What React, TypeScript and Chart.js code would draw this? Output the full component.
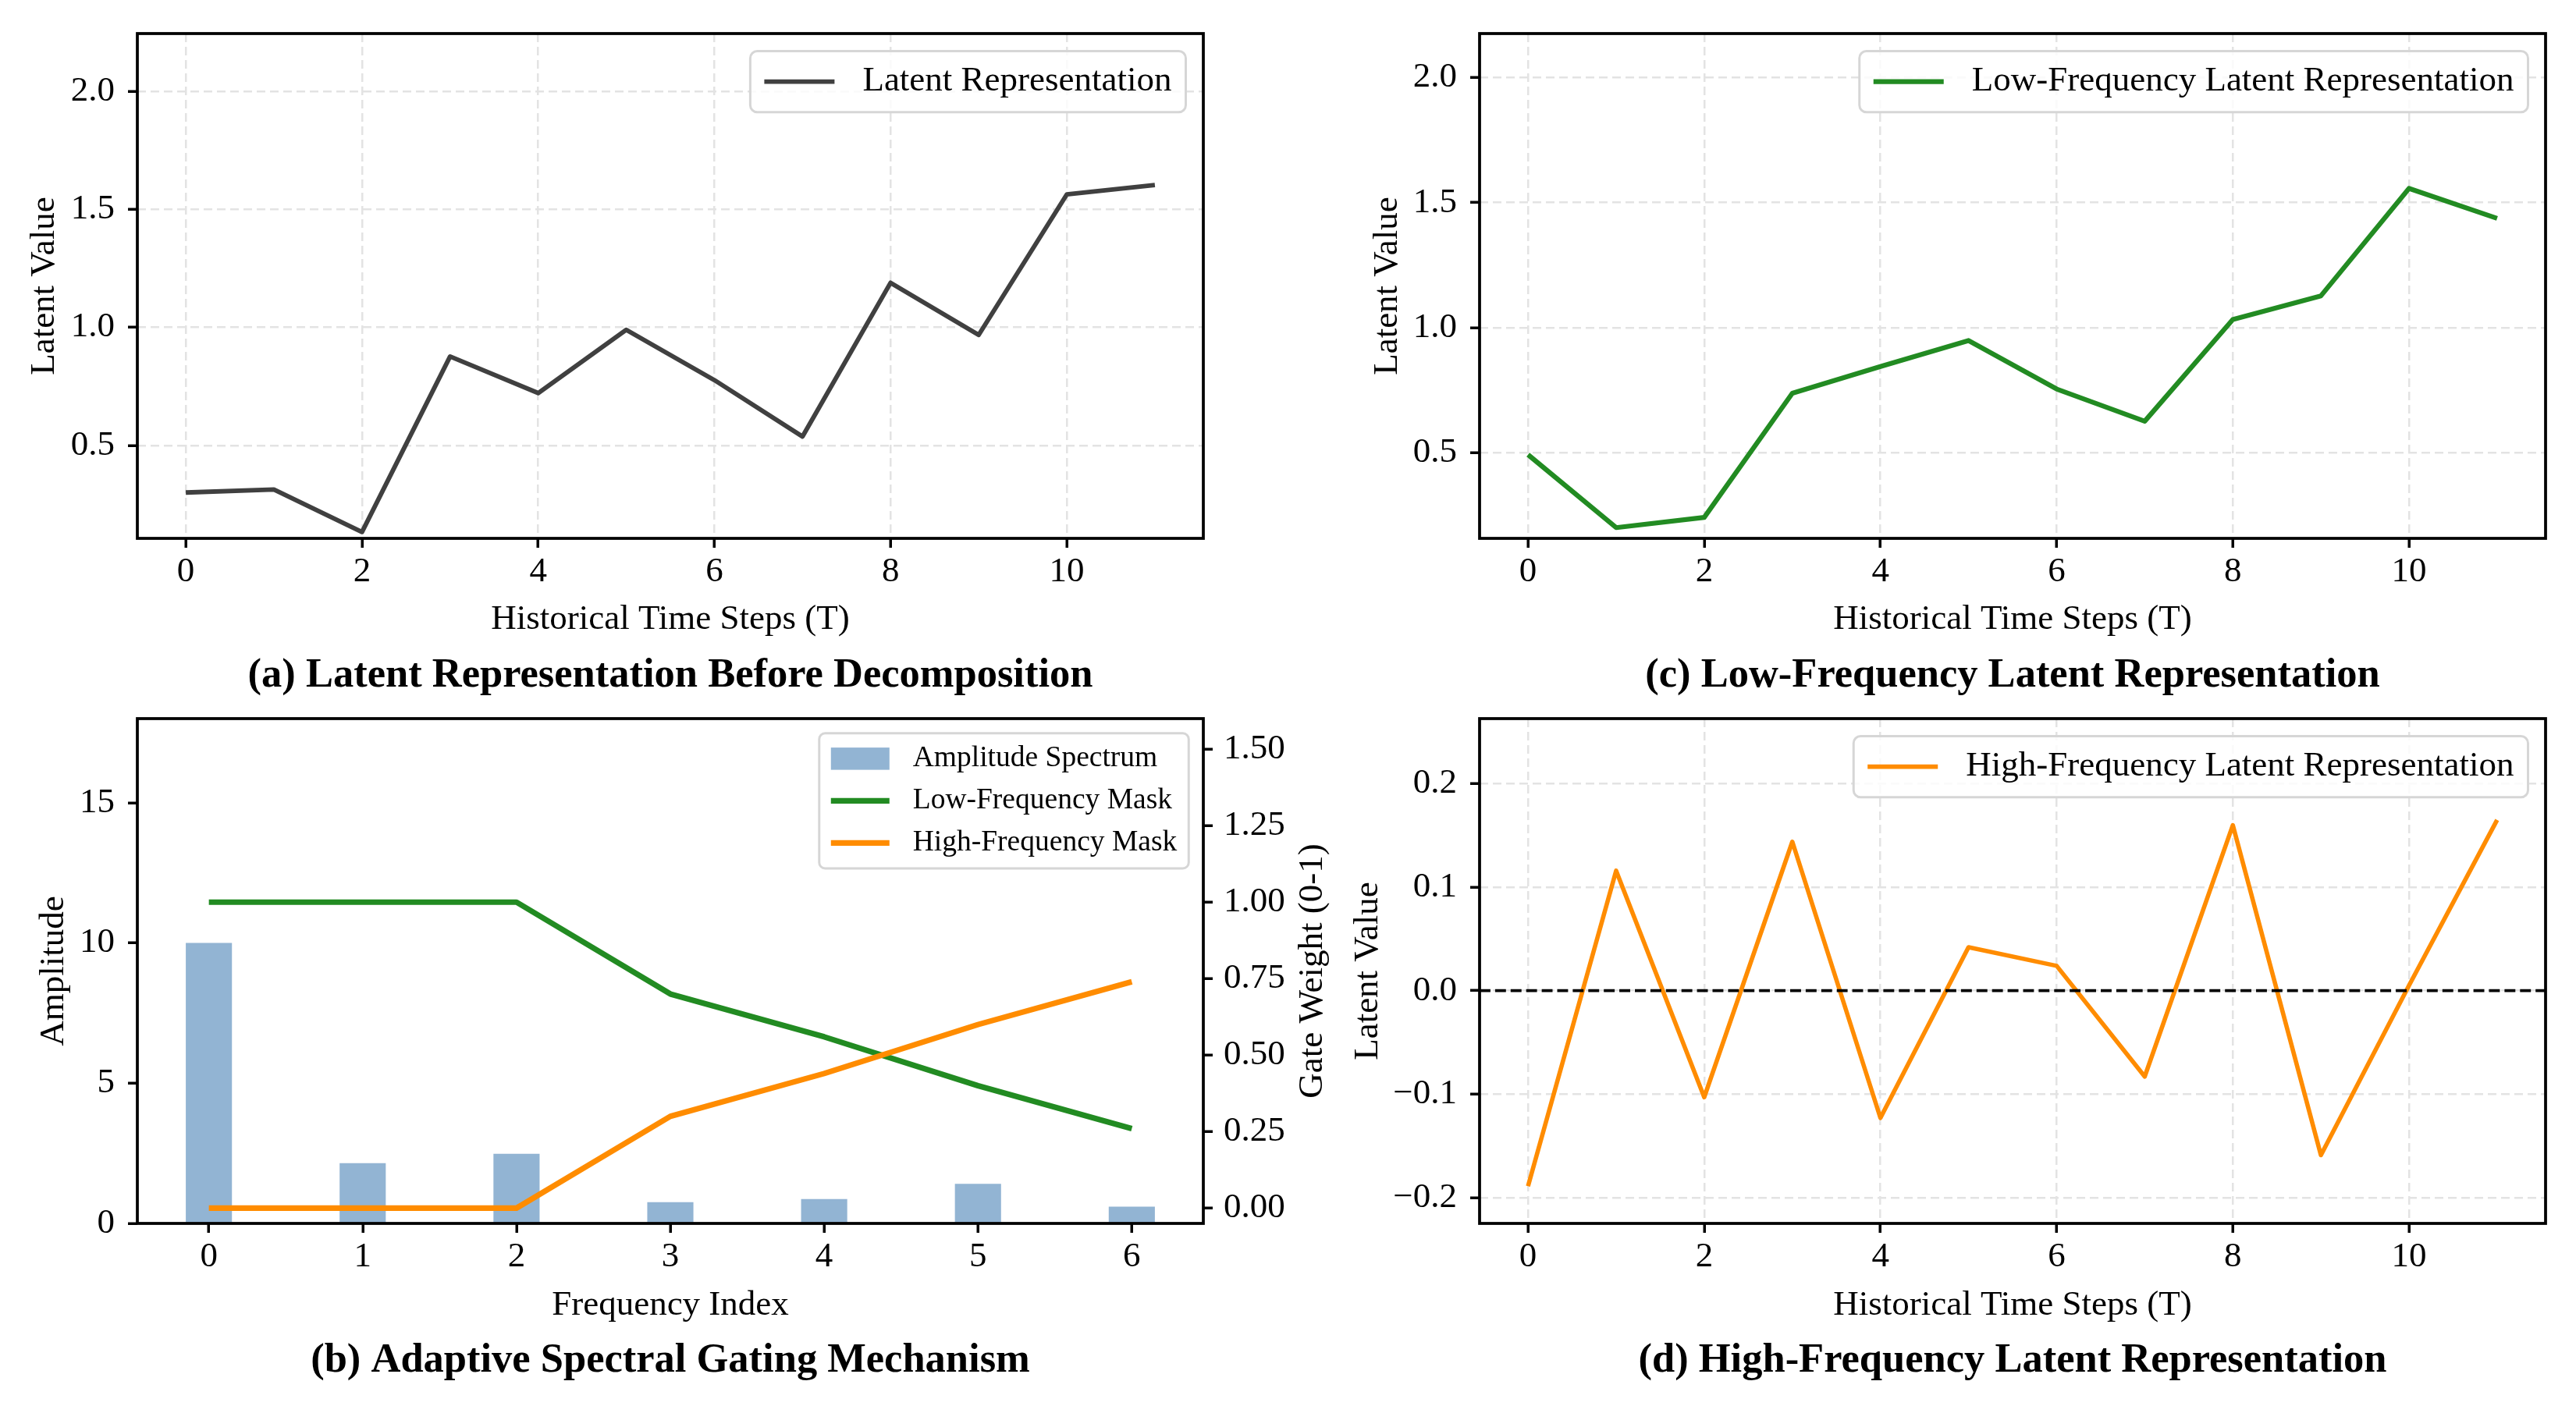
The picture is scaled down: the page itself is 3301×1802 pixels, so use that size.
import React, { useEffect, useRef } from 'react';
import { Chart, registerables } from 'chart.js';

Chart.register(...registerables);

// ---------------- data ----------------
const TIME_STEPS = [0, 1, 2, 3, 4, 5, 6, 7, 8, 9, 10, 11];
const LATENT = [0.301, 0.314, 0.134, 0.877, 0.722, 0.99, 0.777, 0.538, 1.189, 0.968, 1.563, 1.603];
const LOW_FREQ = [0.491, 0.199, 0.24, 0.737, 0.844, 0.948, 0.754, 0.625, 1.032, 1.127, 1.557, 1.437];
const HIGH_FREQ = [-0.189, 0.116, -0.103, 0.144, -0.123, 0.042, 0.024, -0.083, 0.16, -0.159, 0.005, 0.165];

const FREQ_INDEX = [0, 1, 2, 3, 4, 5, 6];
const AMPLITUDE = [10.0, 2.15, 2.48, 0.76, 0.87, 1.41, 0.6];
const LOW_MASK = [1, 1, 1, 0.7, 0.56, 0.4, 0.26];
const HIGH_MASK = [0, 0, 0, 0.3, 0.44, 0.6, 0.74];

const TIME_TICKS = [0, 2, 4, 6, 8, 10];
const FREQ_TICKS = [0, 1, 2, 3, 4, 5, 6];
const LATENT_TICKS = [0.5, 1.0, 1.5, 2.0];
const HIGH_TICKS = [-0.2, -0.1, 0, 0.1, 0.2];
const AMP_TICKS = [0, 5, 10, 15];
const GATE_TICKS = [0, 0.25, 0.5, 0.75, 1.0, 1.25, 1.5];

const TIME_RANGE = [-0.55, 11.55];
const FREQ_RANGE = [-0.465, 6.465];
const LATENT_RANGE_A = [0.107, 2.244];
const LATENT_RANGE_C = [0.156, 2.177];
const HIGH_RANGE = [-0.225, 0.263];
const AMP_RANGE = [0, 18];
const GATE_RANGE = [-0.05, 1.6];

const TITLE_A = '(a) Latent Representation Before Decomposition';
const TITLE_B = '(b) Adaptive Spectral Gating Mechanism';
const TITLE_C = '(c) Low-Frequency Latent Representation';
const TITLE_D = '(d) High-Frequency Latent Representation';
const X_TIME_LABEL = 'Historical Time Steps (T)';
const X_FREQ_LABEL = 'Frequency Index';
const Y_LATENT_LABEL = 'Latent Value';
const Y_AMP_LABEL = 'Amplitude';
const Y_GATE_LABEL = 'Gate Weight (0-1)';
const LEG_LATENT = 'Latent Representation';
const LEG_LOW = 'Low-Frequency Latent Representation';
const LEG_HIGH = 'High-Frequency Latent Representation';
const LEG_AMP = 'Amplitude Spectrum';
const LEG_LOW_MASK = 'Low-Frequency Mask';
const LEG_HIGH_MASK = 'High-Frequency Mask';

// ---------------- style ----------------
const FONT = '"Liberation Serif", "Times New Roman", Times, serif';
const TICK_FS = 45;
const LABEL_FS = 45;
const TITLE_FS = 52.5;
const LEGEND_FS = 45;
const LEGEND_FS_B = 37.5;
const TITLE_LH = TITLE_FS * 1.2;
const LABEL_LH = LABEL_FS * 1.2;
const GRID_COLOR = '#e3e3e3';
const TICK_LEN = 12;
const TICK_W = 3.5;
const SPINE_W = 3.75;
const GRAY = '#404040';
const GREEN = '#228B22';
const ORANGE = '#FF8C00';
const BAR_COLOR = '#92B4D3';

const PANEL_A = { left: 0, top: 0, width: 1700, height: 900, area: [176, 43, 1542, 690], yTitleX: 57, xTitleY: 794, titleY: 866 };
const PANEL_C = { left: 1700, top: 0, width: 1601, height: 900, area: [196, 43, 1562, 690], yTitleX: 78, xTitleY: 794, titleY: 866 };
const PANEL_B = { left: 0, top: 880, width: 1760, height: 922, area: [176, 41, 1542, 688], yTitleX: 69, y2TitleX: 1682, xTitleY: 793, titleY: 864 };
const PANEL_D = { left: 1700, top: 880, width: 1601, height: 922, area: [196, 41, 1562, 688], yTitleX: 53, xTitleY: 793, titleY: 864 };

const pts = (xs: number[], ys: number[]) => xs.map((x, i) => ({ x, y: ys[i] }));
const fmt0 = (v: number) => String(Math.round(v));
const fmt1 = (v: number) => (v < -1e-9 ? '\u2212' : '') + Math.abs(v).toFixed(1);
const fmt2 = (v: number) => (v < -1e-9 ? '\u2212' : '') + Math.abs(v).toFixed(2);

function vLayout(p: any) {
  const titlePadBottom = p.height - p.titleY - TITLE_LH / 2;
  const titleTop = p.height - titlePadBottom - TITLE_LH;
  const xHeight = titleTop - p.area[3];
  const xTitlePadBottom = titleTop - p.xTitleY - LABEL_LH / 2;
  return { titlePadBottom, xHeight, xTitlePadBottom };
}

function makeAxis(o: {
  range: number[]; ticks: number[]; fmt: (v: number) => string; grid: boolean; pad: number;
  size: number; isX: boolean; position?: string; title?: string; titlePad?: any;
}) {
  return {
    type: 'linear',
    position: o.position || (o.isX ? 'bottom' : 'left'),
    min: o.range[0],
    max: o.range[1],
    offset: false,
    afterBuildTicks: (s: any) => {
      s.ticks = o.ticks.map((v) => ({ value: v }));
    },
    afterFit: (s: any) => {
      if (o.isX) s.height = o.size;
      else s.width = o.size;
    },
    ticks: {
      autoSkip: false,
      maxRotation: 0,
      minRotation: 0,
      padding: o.pad,
      color: '#000',
      font: { family: FONT, size: TICK_FS, lineHeight: 1 },
      callback: (v: any) => o.fmt(Number(v)),
    },
    grid: {
      display: true,
      drawOnChartArea: o.grid,
      drawTicks: true,
      offset: false,
      tickLength: TICK_LEN,
      tickWidth: TICK_W,
      tickColor: '#000',
      tickBorderDash: [],
      color: GRID_COLOR,
      lineWidth: 2.5,
    },
    border: { display: false, dash: [11, 6] },
    title: o.title
      ? { display: true, text: o.title, color: '#000', font: { family: FONT, size: LABEL_FS, lineHeight: 1.2 }, padding: o.titlePad }
      : { display: false },
  };
}

const framePlugin = {
  id: 'frame',
  afterDatasetsDraw(chart: any) {
    const { ctx, chartArea: a } = chart;
    ctx.save();
    ctx.strokeStyle = '#000';
    ctx.lineWidth = SPINE_W;
    ctx.setLineDash([]);
    ctx.strokeRect(a.left, a.top, a.right - a.left, a.bottom - a.top);
    ctx.restore();
  },
};

const zeroLinePlugin = {
  id: 'zeroLine',
  afterDatasetsDraw(chart: any) {
    const { ctx, chartArea: a, scales } = chart;
    const y = scales.y.getPixelForValue(0);
    ctx.save();
    ctx.strokeStyle = '#000';
    ctx.lineWidth = 3.75;
    ctx.setLineDash([13.9, 6]);
    ctx.beginPath();
    ctx.moveTo(a.left, y);
    ctx.lineTo(a.right, y);
    ctx.stroke();
    ctx.restore();
  },
};

type LegendItem = { label: string; kind: 'line' | 'patch'; color: string; width?: number };

function legendPlugin(items: LegendItem[], fs: number) {
  return {
    id: 'boxLegend',
    afterDraw(chart: any) {
      const { ctx, chartArea: a } = chart;
      ctx.save();
      ctx.font = `${fs}px ${FONT}`;
      const axPad = 0.5 * fs;
      const bp = 0.4 * fs;
      const hl = 2 * fs;
      const htp = 0.8 * fs;
      const ls = 0.5 * fs;
      const rowH = 0.94 * fs;
      const tw = Math.max(...items.map((it) => ctx.measureText(it.label).width));
      const w = 2 * bp + hl + htp + tw;
      const h = 2 * bp + items.length * rowH + (items.length - 1) * ls;
      const x0 = a.right - axPad - w;
      const y0 = a.top + axPad;
      ctx.beginPath();
      (ctx as any).roundRect(x0, y0, w, h, 0.2 * fs);
      ctx.fillStyle = 'rgba(255,255,255,0.8)';
      ctx.fill();
      ctx.lineWidth = 3;
      ctx.strokeStyle = '#d6d6d6';
      ctx.stroke();
      items.forEach((it, i) => {
        const cy = y0 + bp + i * (rowH + ls) + rowH / 2;
        const hx = x0 + bp;
        if (it.kind === 'patch') {
          ctx.fillStyle = it.color;
          ctx.fillRect(hx, cy - 0.38 * fs, hl, 0.76 * fs);
        } else {
          ctx.strokeStyle = it.color;
          ctx.lineWidth = it.width || 5;
          ctx.setLineDash([]);
          ctx.lineCap = 'butt';
          ctx.beginPath();
          ctx.moveTo(hx, cy);
          ctx.lineTo(hx + hl, cy);
          ctx.stroke();
        }
        ctx.fillStyle = '#000';
        ctx.textAlign = 'left';
        ctx.textBaseline = 'middle';
        ctx.fillText(it.label, hx + hl + htp, cy);
      });
      ctx.restore();
    },
  };
}

function sideTitlePlugin(text: string, x: number) {
  return {
    id: 'sideTitle',
    afterDraw(chart: any) {
      const { ctx, chartArea: a } = chart;
      ctx.save();
      ctx.translate(x, (a.top + a.bottom) / 2);
      ctx.rotate(-Math.PI / 2);
      ctx.font = `${LABEL_FS}px ${FONT}`;
      ctx.fillStyle = '#000';
      ctx.textAlign = 'center';
      ctx.textBaseline = 'middle';
      ctx.fillText(text, 0, 0);
      ctx.restore();
    },
  };
}

function baseOptions(p: any, title: string, rightPad: number) {
  const v = vLayout(p);
  return {
    responsive: false,
    maintainAspectRatio: false,
    animation: false,
    events: [],
    layout: { padding: { left: 0, top: p.area[1], right: rightPad, bottom: 0 } },
    plugins: {
      legend: { display: false },
      tooltip: { enabled: false },
      title: {
        display: true,
        text: title,
        position: 'bottom',
        fullSize: false,
        color: '#000',
        font: { family: FONT, size: TITLE_FS, weight: 'bold', lineHeight: 1.2 },
        padding: { top: 0, bottom: v.titlePadBottom },
      },
    },
  };
}

function lineDataset(label: string, ys: number[], color: string, width: number) {
  return {
    type: 'line',
    label,
    data: pts(TIME_STEPS, ys),
    borderColor: color,
    backgroundColor: color,
    borderWidth: width,
    pointRadius: 0,
    tension: 0,
    fill: false,
    borderJoinStyle: 'round',
    borderCapStyle: 'butt',
  };
}

function configA() {
  const p = PANEL_A;
  const v = vLayout(p);
  return {
    type: 'line',
    data: { datasets: [lineDataset(LEG_LATENT, LATENT, GRAY, 5.8)] },
    options: {
      ...baseOptions(p, TITLE_A, p.width - p.area[2]),
      scales: {
        x: makeAxis({ range: TIME_RANGE, ticks: TIME_TICKS, fmt: fmt0, grid: true, pad: 8.5, size: v.xHeight, isX: true, title: X_TIME_LABEL, titlePad: { top: 0, bottom: v.xTitlePadBottom } }),
        y: makeAxis({ range: LATENT_RANGE_A, ticks: LATENT_TICKS, fmt: fmt1, grid: true, pad: 17, size: p.area[0], isX: false, title: Y_LATENT_LABEL, titlePad: { top: p.yTitleX - LABEL_LH / 2, bottom: 0 } }),
      },
    },
    plugins: [framePlugin, legendPlugin([{ label: LEG_LATENT, kind: 'line', color: GRAY, width: 5.8 }], LEGEND_FS)],
  };
}

function configC() {
  const p = PANEL_C;
  const v = vLayout(p);
  return {
    type: 'line',
    data: { datasets: [lineDataset(LEG_LOW, LOW_FREQ, GREEN, 6.2)] },
    options: {
      ...baseOptions(p, TITLE_C, p.width - p.area[2]),
      scales: {
        x: makeAxis({ range: TIME_RANGE, ticks: TIME_TICKS, fmt: fmt0, grid: true, pad: 8.5, size: v.xHeight, isX: true, title: X_TIME_LABEL, titlePad: { top: 0, bottom: v.xTitlePadBottom } }),
        y: makeAxis({ range: LATENT_RANGE_C, ticks: LATENT_TICKS, fmt: fmt1, grid: true, pad: 17, size: p.area[0], isX: false, title: Y_LATENT_LABEL, titlePad: { top: p.yTitleX - LABEL_LH / 2, bottom: 0 } }),
      },
    },
    plugins: [framePlugin, legendPlugin([{ label: LEG_LOW, kind: 'line', color: GREEN, width: 6.2 }], LEGEND_FS)],
  };
}

function configD() {
  const p = PANEL_D;
  const v = vLayout(p);
  return {
    type: 'line',
    data: { datasets: [lineDataset(LEG_HIGH, HIGH_FREQ, ORANGE, 5.6)] },
    options: {
      ...baseOptions(p, TITLE_D, p.width - p.area[2]),
      scales: {
        x: makeAxis({ range: TIME_RANGE, ticks: TIME_TICKS, fmt: fmt0, grid: true, pad: 8.5, size: v.xHeight, isX: true, title: X_TIME_LABEL, titlePad: { top: 0, bottom: v.xTitlePadBottom } }),
        y: makeAxis({ range: HIGH_RANGE, ticks: HIGH_TICKS, fmt: fmt1, grid: true, pad: 17, size: p.area[0], isX: false, title: Y_LATENT_LABEL, titlePad: { top: p.yTitleX - LABEL_LH / 2, bottom: 0 } }),
      },
    },
    plugins: [zeroLinePlugin, framePlugin, legendPlugin([{ label: LEG_HIGH, kind: 'line', color: ORANGE, width: 5.6 }], LEGEND_FS)],
  };
}

function configB() {
  const p = PANEL_B;
  const v = vLayout(p);
  const maskW = 7.2;
  return {
    type: 'line',
    data: {
      datasets: [
        {
          type: 'line', label: LEG_HIGH_MASK, data: pts(FREQ_INDEX, HIGH_MASK), yAxisID: 'y1', order: 1,
          borderColor: ORANGE, backgroundColor: ORANGE, borderWidth: maskW, pointRadius: 0, tension: 0, fill: false,
          borderJoinStyle: 'round', borderCapStyle: 'butt',
        },
        {
          type: 'line', label: LEG_LOW_MASK, data: pts(FREQ_INDEX, LOW_MASK), yAxisID: 'y1', order: 2,
          borderColor: GREEN, backgroundColor: GREEN, borderWidth: maskW, pointRadius: 0, tension: 0, fill: false,
          borderJoinStyle: 'round', borderCapStyle: 'butt',
        },
        {
          type: 'bar', label: LEG_AMP, data: pts(FREQ_INDEX, AMPLITUDE), yAxisID: 'y', order: 3,
          backgroundColor: BAR_COLOR, borderWidth: 0, barPercentage: 0.3, categoryPercentage: 1,
        },
      ],
    },
    options: {
      ...baseOptions(p, TITLE_B, 0),
      scales: {
        x: makeAxis({ range: FREQ_RANGE, ticks: FREQ_TICKS, fmt: fmt0, grid: false, pad: 8.5, size: v.xHeight, isX: true, title: X_FREQ_LABEL, titlePad: { top: 0, bottom: v.xTitlePadBottom } }),
        y: makeAxis({ range: AMP_RANGE, ticks: AMP_TICKS, fmt: fmt0, grid: false, pad: 17, size: p.area[0], isX: false, title: Y_AMP_LABEL, titlePad: { top: p.yTitleX - LABEL_LH / 2, bottom: 0 } }),
        y1: makeAxis({ range: GATE_RANGE, ticks: GATE_TICKS, fmt: fmt2, grid: false, pad: 14, size: p.width - p.area[2], isX: false, position: 'right' }),
      },
    },
    plugins: [
      framePlugin,
      sideTitlePlugin(Y_GATE_LABEL, p.y2TitleX),
      legendPlugin(
        [
          { label: LEG_AMP, kind: 'patch', color: BAR_COLOR },
          { label: LEG_LOW_MASK, kind: 'line', color: GREEN, width: maskW },
          { label: LEG_HIGH_MASK, kind: 'line', color: ORANGE, width: maskW },
        ],
        LEGEND_FS_B,
      ),
    ],
  };
}

function ChartPanel({ panel, makeConfig }: { panel: any; makeConfig: () => any }) {
  const ref = useRef<HTMLCanvasElement>(null);
  useEffect(() => {
    if (!ref.current) return;
    const chart = new Chart(ref.current, makeConfig() as any);
    return () => chart.destroy();
  }, []);
  return (
    <div style={{ position: 'absolute', left: panel.left, top: panel.top, width: panel.width, height: panel.height }}>
      <canvas ref={ref} width={panel.width} height={panel.height} style={{ width: panel.width, height: panel.height, display: 'block' }} />
    </div>
  );
}

export default function App() {
  return (
    <div style={{ position: 'absolute', left: 0, top: 0, width: 3301, height: 1802, background: '#fff', overflow: 'hidden' }}>
      <ChartPanel panel={PANEL_A} makeConfig={configA} />
      <ChartPanel panel={PANEL_C} makeConfig={configC} />
      <ChartPanel panel={PANEL_B} makeConfig={configB} />
      <ChartPanel panel={PANEL_D} makeConfig={configD} />
    </div>
  );
}
